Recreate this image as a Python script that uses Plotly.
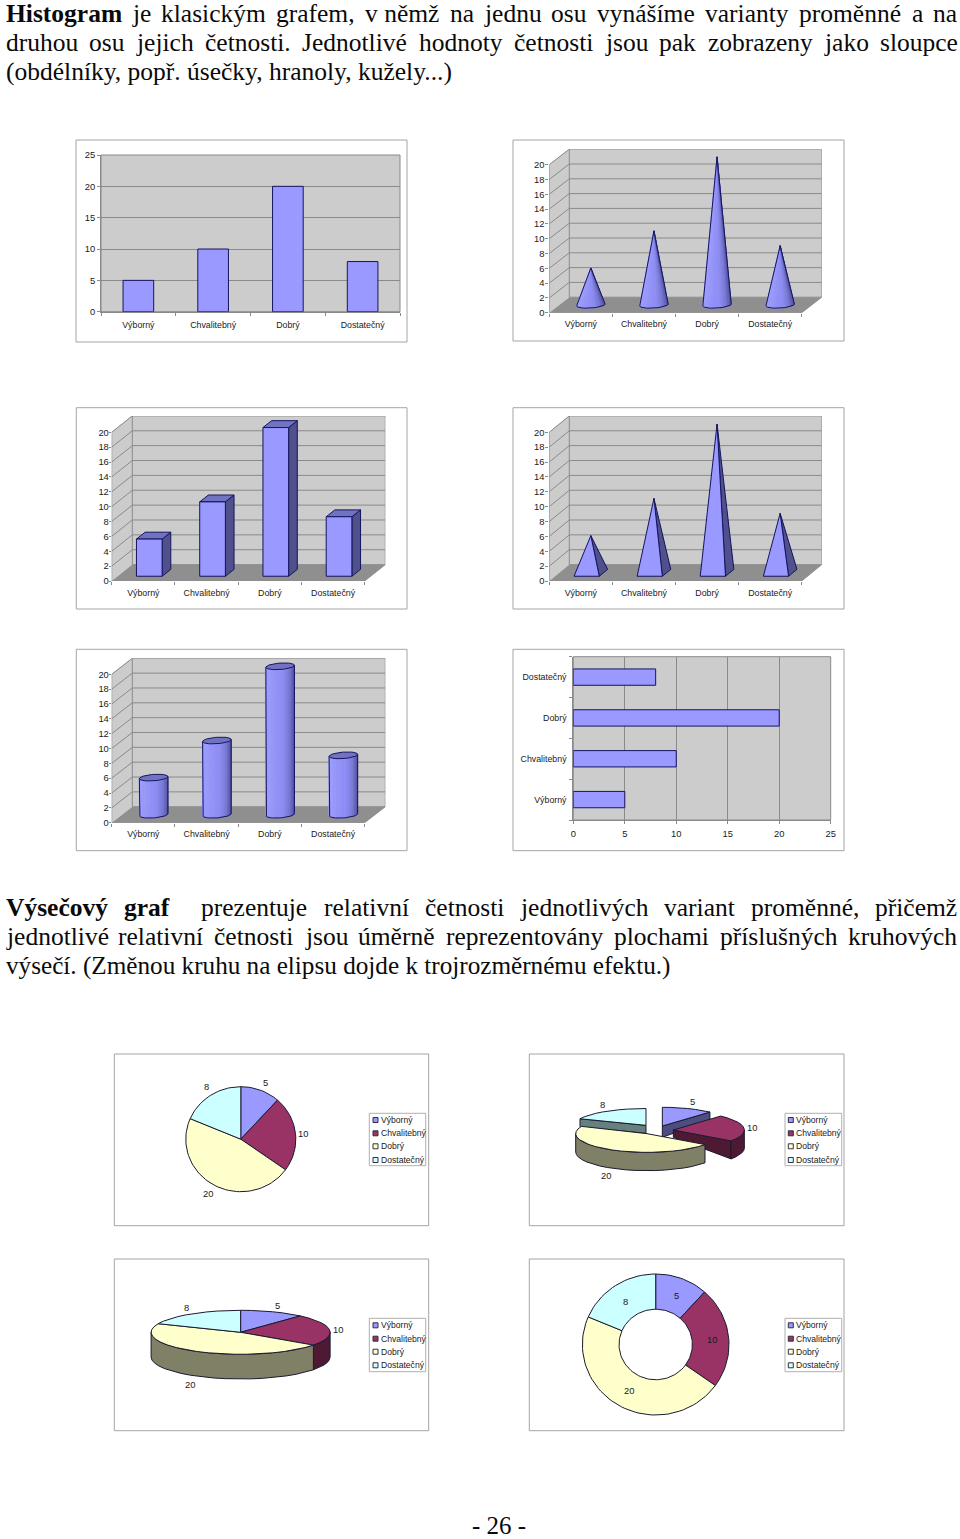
import math
import plotly.graph_objects as go

W, H = 960, 1539

# ---------- data ----------
categories = ["Výborný", "Chvalitebný", "Dobrý", "Dostatečný"]
values = [5, 10, 20, 8]
ticks_2d = [0, 5, 10, 15, 20, 25]
ticks_3d = [0, 2, 4, 6, 8, 10, 12, 14, 16, 18, 20]
pie_colors = ["#9999FF", "#993366", "#FFFFCC", "#CCFFFF"]
pie_dark = ["#4D4D80", "#4D1933", "#808066", "#668080"]

lines_just = [
    (13.5, ["Histogram", "je", "klasickým", "grafem,", "v němž", "na", "jednu", "osu", "vynášíme", "varianty", "proměnné", "a", "na"]),
    (42.5, ["druhou", "osu", "jejich", "četnosti.", "Jednotlivé", "hodnoty", "četnosti", "jsou", "pak", "zobrazeny", "jako", "sloupce"]),
    (907.5, ["Výsečový", "graf", "", "prezentuje", "relativní", "četnosti", "jednotlivých", "variant", "proměnné,", "přičemž"]),
    (936.5, ["jednotlivé", "relativní", "četnosti", "jsou", "úměrně", "reprezentovány", "plochami", "příslušných", "kruhových"]),
]
lines_left = [
    (71.5, "(obdélníky, popř. úsečky, hranoly, kužely...)", 25.5),
    (965.5, "výsečí. (Změnou kruhu na elipsu dojde k trojrozměrnému efektu.)", 25.2),
]
bold_words = {"Histogram": 4.555, "Výsečový": 4.0, "graf": 1.777}

# ---------- styles ----------
SANS = "Liberation Sans"
SERIF = "Liberation Serif"
TXT = "#1a1a1a"
NAVY = "#14145f"
GRID = "#8a8a8a"
WALL = "#CCCCCC"
FLOOR = "#8F8F8F"
BAR = "#9999FF"
BAR_TOP = "#7272C2"
BAR_SIDE = "#50508C"
FRAME = "#a4a4a4"
FS = 9.4
FS_CAT = 8.8
FS_LEG = 8.6

fig = go.Figure()
shapes, annos = [], []
axis_no = [0]


def px(x):
    return x / W


def py(y):
    return 1 - y / H


def text(x, y, s, size=FS, anchor="center", font=SANS, color=TXT):
    annos.append(dict(x=px(x), y=py(y), xref="paper", yref="paper", text=s, showarrow=False,
                      xanchor=anchor, yanchor="middle", borderpad=0,
                      font=dict(family=font, size=size, color=color)))


def frame(x0, y0, x1, y1, fill="white", line=FRAME):
    shapes.append(dict(type="rect", xref="paper", yref="paper", x0=px(x0), x1=px(x1), y0=py(y0), y1=py(y1),
                       fillcolor=fill, line=dict(color=line, width=1), layer="below"))


def new_axes(xd, yd, xa, ya):
    axis_no[0] += 1
    n = axis_no[0]
    s = "" if n == 1 else str(n)
    xa.update(domain=[px(xd[0]), px(xd[1])], anchor="y" + s, automargin=False, fixedrange=True)
    ya.update(domain=[py(yd[1]), py(yd[0])], anchor="x" + s, automargin=False, fixedrange=True)
    fig.layout["xaxis" + s] = xa
    fig.layout["yaxis" + s] = ya
    return "x" + s, "y" + s


def poly(ax, polys, fill=None, line=None, width=1.0):
    xs, ys = [], []
    for p in polys:
        xs += [q[0] for q in p] + [None]
        ys += [q[1] for q in p] + [None]
    fig.add_trace(go.Scatter(x=xs, y=ys, xaxis=ax[0], yaxis=ax[1], mode="lines", hoverinfo="skip",
                             showlegend=False, cliponaxis=False,
                             fill="toself" if fill else "none", fillcolor=fill,
                             line=dict(color=line or fill, width=width if (line or fill) else 0)))


TICKF = dict(family=SANS, size=FS, color=TXT)
CATF = dict(family=SANS, size=FS_CAT, color=TXT)


def panel_2d_col():
    frame(76, 140, 407, 342)
    x0, x1, y0, y1 = 101, 400, 155, 311.7
    frame(x0, y0, x1, y1, fill=WALL, line=GRID)
    ax = new_axes((x0, x1), (y0, y1),
                  dict(range=[-0.5, 3.5], tickmode="array", tickvals=[0, 1, 2, 3], ticktext=categories,
                       ticks="outside", ticklen=3, tickcolor="rgba(0,0,0,0)", tickfont=CATF, ticklabelstandoff=2,
                       showgrid=False, zeroline=False, showline=True, linecolor=GRID,
                       minor=dict(tickmode="array", tickvals=[-0.5, 0.5, 1.5, 2.5, 3.5], ticks="outside", ticklen=3, tickcolor=GRID)),
                  dict(range=[0, 25], tickmode="array", tickvals=ticks_2d, ticks="outside", ticklen=3, tickcolor=GRID,
                       tickfont=TICKF, showgrid=True, gridcolor=GRID, gridwidth=1, zeroline=False,
                       showline=True, linecolor=GRID))
    fig.add_trace(go.Bar(x=[0, 1, 2, 3], y=values, width=0.41, xaxis=ax[0], yaxis=ax[1], showlegend=False,
                         hoverinfo="skip", marker=dict(color=BAR, line=dict(color=NAVY, width=1))))


def panel_2d_hbar():
    frame(513, 649.3, 844, 850.7)
    x0, x1, y0, y1 = 573.3, 830.7, 656.7, 820
    frame(x0, y0, x1, y1, fill=WALL, line=GRID)
    ax = new_axes((x0, x1), (y0, y1),
                  dict(range=[0, 25], tickmode="array", tickvals=ticks_2d, ticks="outside", ticklen=3, tickcolor=GRID,
                       tickfont=TICKF, ticklabelstandoff=2, showgrid=True, gridcolor=GRID, gridwidth=1, zeroline=False,
                       showline=True, linecolor=GRID),
                  dict(range=[-0.5, 3.5], tickmode="array", tickvals=[0, 1, 2, 3], ticktext=categories,
                       ticks="outside", ticklen=3, tickcolor="rgba(0,0,0,0)", tickfont=CATF, ticklabelstandoff=1,
                       showgrid=False, zeroline=False, showline=True, linecolor=GRID,
                       minor=dict(tickmode="array", tickvals=[-0.5, 0.5, 1.5, 2.5, 3.5], ticks="outside", ticklen=3, tickcolor=GRID)))
    fig.add_trace(go.Bar(y=[0, 1, 2, 3], x=values, orientation="h", width=0.4, xaxis=ax[0], yaxis=ax[1], showlegend=False,
                         hoverinfo="skip", marker=dict(color=BAR, line=dict(color=NAVY, width=1))))


def shade(t):
    stops = [(0.0, (158, 158, 255)), (0.55, (142, 142, 245)), (0.85, (118, 118, 210)), (1.0, (88, 88, 168))]
    for (a, ca), (b, cb) in zip(stops, stops[1:]):
        if t <= b:
            f = (t - a) / (b - a)
            c = [round(p + (q - p) * f) for p, q in zip(ca, cb)]
            return "rgb(%d,%d,%d)" % tuple(c)
    return "rgb(88,88,168)"


def panel_3d(kind, fx0, fy0, fx1, fy1, ax_x, floor_y, y20, fr_x, dxp, dyp, ylen=3, ystand=0):
    frame(fx0, fy0, fx1, fy1)
    ppc = (fr_x - ax_x) / 4
    ppv = (floor_y - y20) / 20
    dx, dy = dxp / ppc, dyp / ppv
    top = 20 + dy
    ax = new_axes((ax_x, fr_x + dxp), (y20 - dyp, floor_y),
                  dict(range=[0, 4 + dx], tickmode="array", tickvals=[0.5, 1.5, 2.5, 3.5], ticktext=categories,
                       ticks="outside", ticklen=3, tickcolor="rgba(0,0,0,0)", tickfont=CATF, ticklabelstandoff=0,
                       showgrid=False, zeroline=False, showline=False,
                       minor=dict(tickmode="array", tickvals=[0, 1, 2, 3, 4], ticks="outside", ticklen=3, tickcolor=GRID)),
                  dict(range=[0, top], tickmode="array", tickvals=ticks_3d, ticks="outside", ticklen=ylen, tickcolor=GRID,
                       tickfont=TICKF, ticklabelstandoff=ystand, showgrid=False, zeroline=False, showline=False))
    # walls and floor
    poly(ax, [[(0, 0), (0, 20), (dx, top), (dx, dy)], [(dx, dy), (dx, top), (4 + dx, top), (4 + dx, dy)]], fill=WALL)
    poly(ax, [[(0, 0), (4, 0), (4 + dx, dy), (dx, dy)]], fill=FLOOR)
    grid = [[(0, v), (dx, v + dy), (4 + dx, v + dy)] for v in ticks_3d[1:]]
    grid += [[(dx, dy), (dx, top)], [(4 + dx, dy), (4 + dx, top)], [(0, 0), (0, 20)], [(0, 0), (4, 0)]]
    poly(ax, grid, line=GRID)

    frac = 0.21
    vx, vy = frac * dx, frac * dy
    centers = [(i + 0.5 + dx / 2, dy / 2) for i in range(4)]
    if kind == "column":
        hw = 0.203
        fronts, tops, sides = [], [], []
        for (cx, cy), v in zip(centers, values):
            l, r, b = cx - vx - hw, cx - vx + hw, cy - vy
            fronts.append([(l, b), (r, b), (r, b + v), (l, b + v), (l, b)])
            tops.append([(l, b + v), (r, b + v), (r + 2 * vx, b + v + 2 * vy), (l + 2 * vx, b + v + 2 * vy), (l, b + v)])
            sides.append([(r, b), (r + 2 * vx, b + 2 * vy), (r + 2 * vx, b + v + 2 * vy), (r, b + v), (r, b)])
        poly(ax, sides, fill=BAR_SIDE, line=NAVY)
        poly(ax, tops, fill=BAR_TOP, line=NAVY)
        poly(ax, fronts, fill=BAR, line=NAVY)
    elif kind == "pyramid":
        hw = 0.2
        fronts, sides = [], []
        for (cx, cy), v in zip(centers, values):
            l, r, b = cx - vx - hw, cx - vx + hw, cy - vy
            tip = (cx, cy + v)
            fronts.append([(l, b), (r, b), tip, (l, b)])
            sides.append([(r, b), (r + 2 * vx, b + 2 * vy), tip, (r, b)])
        poly(ax, sides, fill=BAR_SIDE, line=NAVY)
        poly(ax, fronts, fill=BAR, line=NAVY)
    else:
        hw = 0.215
        N = 22
        t0 = math.atan2(vx, hw)
        strips = {}
        outlines, caps = [], []
        for (cx, cy), v in zip(centers, values):
            arc = []
            for k in range(N + 1):
                th = t0 - math.pi * k / N
                arc.append((cx + hw * math.cos(th) + vx * math.sin(th), cy + vy * math.sin(th)))
            arc = arc[::-1]  # left to right
            xl, xr = arc[0][0], arc[-1][0]
            for k in range(N):
                a, b = arc[k], arc[k + 1]
                t = ((a[0] + b[0]) / 2 - xl) / (xr - xl)
                if kind == "cone":
                    p = [a, b, (cx, cy + v), a]
                else:
                    p = [a, b, (b[0], b[1] + v), (a[0], a[1] + v), a]
                strips.setdefault(shade(round(t * 14) / 14), []).append(p)
            if kind == "cone":
                outlines.append(arc + [(cx, cy + v), arc[0]])
            else:
                outlines.append([(arc[0][0], arc[0][1] + v)] + arc + [(arc[-1][0], arc[-1][1] + v)])
                cap = []
                for k in range(41):
                    th = 2 * math.pi * k / 40
                    cap.append((cx + hw * math.cos(th) + vx * math.sin(th), cy + v + vy * math.sin(th)))
                caps.append(cap)
        for col, ps in strips.items():
            poly(ax, ps, fill=col, line=col, width=0.7)
        if caps:
            poly(ax, caps, fill=BAR_TOP, line=NAVY)
        poly(ax, outlines, line=NAVY)


def arc_pts(cx, cy, rx, ry, a0, a1, n=40):
    n = max(2, int(n * abs(a1 - a0) / 360) + 2)
    out = []
    for k in range(n + 1):
        a = math.radians(a0 + (a1 - a0) * k / n)
        out.append((cx + rx * math.sin(a), cy - ry * math.cos(a)))
    return out


def angle_spans():
    tot = sum(values)
    spans, acc = [], 0
    for v in values:
        spans.append((acc * 360 / tot, (acc + v) * 360 / tot))
        acc += v
    return spans


def page_axes(x0, y0, x1, y1):
    return new_axes((x0, x1), (y0, y1),
                    dict(range=[x0, x1], visible=False),
                    dict(range=[y1, y0], visible=False))


def legend_block(box, swatch_x, text_x, ys):
    frame(box[0], box[1], box[2], box[3], line="#b0b0b0")
    for c, name, y in zip(pie_colors, categories, ys):
        shapes.append(dict(type="rect", xref="paper", yref="paper", x0=px(swatch_x), x1=px(swatch_x + 5),
                           y0=py(y + 2.5), y1=py(y - 2.5), fillcolor=c, line=dict(color="#303040", width=1), layer="below"))
        text(text_x, y, name, size=FS_LEG, anchor="left")


def flat_pie(x0, y0, x1, y1, cx, cy, rx, ry, hole, labels):
    """Pie or ring; the page was scanned slightly squashed, so rx differs from ry."""
    frame(x0, y0, x1, y1)
    ax = page_axes(x0, y0, x1, y1)
    for (a0, a1), col in zip(angle_spans(), pie_colors):
        outer = arc_pts(cx, cy, rx, ry, a0, a1, n=120)
        if hole:
            inner = arc_pts(cx, cy, rx * hole, ry * hole, a1, a0, n=120)
        else:
            inner = [(cx, cy)]
        pts = outer + inner + [outer[0]]
        poly(ax, [pts], fill=col, line="#1a1a30")
    for (lx, ly), v in zip(labels, values):
        text(lx, ly, str(v))


def tilted_pie():
    x0, y0, x1, y1 = 114.3, 1259, 428.7, 1430.7
    frame(x0, y0, x1, y1)
    ax = page_axes(x0, y0, x1, y1)
    cx, cy, rx, ry, th = 240.6, 1332.3, 89.5, 22, 24.7
    spans = angle_spans()
    for (a0, a1), dark in zip(spans, pie_dark):
        s, e = max(a0, 90), min(a1, 270)
        if e > s:
            up = arc_pts(cx, cy, rx, ry, s, e)
            low = [(p[0], p[1] + th) for p in up[::-1]]
            poly(ax, [up + low + [up[0]]], fill=dark, line="#1a1a30")
    for (a0, a1), col in zip(spans, pie_colors):
        pts = [(cx, cy)] + arc_pts(cx, cy, rx, ry, a0, a1) + [(cx, cy)]
        poly(ax, [pts], fill=col, line="#1a1a30")
    for (lx, ly), v in zip([(277, 1305), (338.3, 1329.3), (190.3, 1384), (186, 1307.3)], values):
        text(lx, ly, str(v))


def exploded_pie():
    x0, y0, x1, y1 = 529.3, 1054, 844, 1225.7
    frame(x0, y0, x1, y1)
    ax = page_axes(x0, y0, x1, y1)
    zx = lambda z: 525 + z / 3
    zy = lambda z: 1050 + z / 3
    L = "#1a1a30"
    spans = angle_spans()
    # apex x, apex y, rx, ry, rim depth, apex depth per wedge (perspective makes them differ)
    wedges = [
        (zx(412), zy(228), 71.3, 18.7, 7.7, 11.3),
        (zx(445), zy(240), 71.0, 18.7, 18.0, 7.3),
        (zx(366), zy(251), 71.3, 18.7, 18.3, 8.0),
        (zx(363), zy(226), 71.7, 16.8, 8.0, 8.0),
    ]

    def draw(i):
        cx, cy, rx, ry, tr, ta = wedges[i]
        a0, a1 = spans[i]
        arc = arc_pts(cx, cy, rx, ry, a0, a1)
        if i in (0, 1):      # cut face towards the viewer at the end angle
            e = arc[-1]
            poly(ax, [[(cx, cy), e, (e[0], e[1] + tr), (cx, cy + ta), (cx, cy)]], fill=pie_dark[i], line=L)
        if i == 3:      # cut face at the start angle
            s = arc[0]
            poly(ax, [[(cx, cy), s, (s[0], s[1] + tr), (cx, cy + ta), (cx, cy)]], fill=pie_dark[i], line=L)
        s_, e_ = max(a0, 90), min(a1, 270)
        if e_ > s_:
            up = arc_pts(cx, cy, rx, ry, s_, e_)
            low = [(p[0], p[1] + tr) for p in up[::-1]]
            poly(ax, [up + low + [up[0]]], fill=pie_dark[i], line=L)
        poly(ax, [[(cx, cy)] + arc + [(cx, cy)]], fill=pie_colors[i], line=L)

    for i in (3, 0, 1, 2):
        draw(i)
    for (lx, ly), v in zip([(692, 1101.7), (752.3, 1127.3), (606, 1175), (602.3, 1104.3)], values):
        text(lx, ly, str(v))


# ---------- body text ----------
CW = {"a": .444, "b": .5, "c": .444, "d": .5, "e": .444, "f": .333, "g": .5, "h": .5, "i": .278, "j": .278, "k": .5,
      "l": .278, "m": .778, "n": .5, "o": .5, "p": .5, "q": .5, "r": .333, "s": .389, "t": .278, "u": .5, "v": .5,
      "w": .722, "x": .5, "y": .5, "z": .444, "á": .444, "é": .444, "ě": .444, "í": .278, "ý": .5, "č": .444,
      "š": .389, "ž": .444, "ř": .333, "ň": .5, "ů": .5, "ú": .5, "J": .389, "Z": .611, "V": .722, "H": .722,
      ",": .25, ".": .25, " ": .25, "(": .333, ")": .333}
BODY = 25.5


def word_w(w):
    if w in bold_words:
        return bold_words[w] * BODY
    return sum(CW.get(c, .5) for c in w) * BODY


def body_text():
    x0, x1 = 4.5, 956.5
    for y, words in lines_just:
        gap = (x1 - x0 - sum(word_w(w) for w in words)) / (len(words) - 1)
        x = x0
        for w in words:
            if w:
                text(x, y, "<b>%s</b>" % w if w in bold_words else w, size=BODY, anchor="left", font=SERIF, color="#0a0a0a")
            x += word_w(w) + gap
    for y, s, size in lines_left:
        text(x0, y, s, size=size, anchor="left", font=SERIF, color="#0a0a0a")
    text(499, 1525, "- 26 -", size=25, font=SERIF, color="#0a0a0a")


# ---------- assemble ----------
body_text()
panel_2d_col()
panel_3d("cone", 513, 140, 844, 341, 549.3, 312.7, 164.7, 801.7, 20, 15.5, 3, -1)
panel_3d("column", 76.3, 407.7, 407, 609, 111.7, 581, 432.3, 364.7, 20.6, 16.4, 2, -2)
panel_3d("pyramid", 513, 407.7, 844, 609, 549.3, 581, 432.3, 801.7, 20, 16.4, 3, -1)
panel_3d("cylinder", 76.3, 649.3, 407, 850.7, 111.7, 822.7, 674.3, 364.7, 20.6, 16, 2, -2)
panel_2d_hbar()

flat_pie(114.3, 1054, 428.7, 1225.7, 240.8, 1139.2, 55, 52.5, 0,
         [(265, 1082.3), (302.7, 1133.3), (208.3, 1193.3), (206, 1086.7)])
legend_block((369.3, 1113.3, 425.7, 1165.7), 373, 379.5, [1120, 1133.3, 1146.3, 1160])
exploded_pie()
legend_block((785, 1113.3, 841.7, 1165.7), 788.3, 795.2, [1120, 1133.3, 1146.3, 1160])
tilted_pie()
legend_block((369.3, 1318.3, 425.7, 1371.7), 373, 379.5, [1325.3, 1338.7, 1351.7, 1365.3])
flat_pie(529.3, 1259, 844, 1430.7, 655.7, 1344.5, 73.3, 70.5, 0.5,
         [(676, 1295.7), (711.7, 1339.3), (629.3, 1390.7), (625.7, 1301)])
legend_block((785, 1318.3, 841.7, 1371.7), 788.3, 795.2, [1325.3, 1338.7, 1351.7, 1365.3])

fig.update_layout(width=W, height=H, autosize=False, margin=dict(l=0, r=0, t=0, b=0),
                  paper_bgcolor="white", plot_bgcolor="rgba(0,0,0,0)", showlegend=False, bargap=0,
                  shapes=shapes, annotations=annos, hovermode=False)
fig.write_html("out.html", config=dict(displayModeBar=False, staticPlot=True),
               post_script="document.body.style.margin='0';")
